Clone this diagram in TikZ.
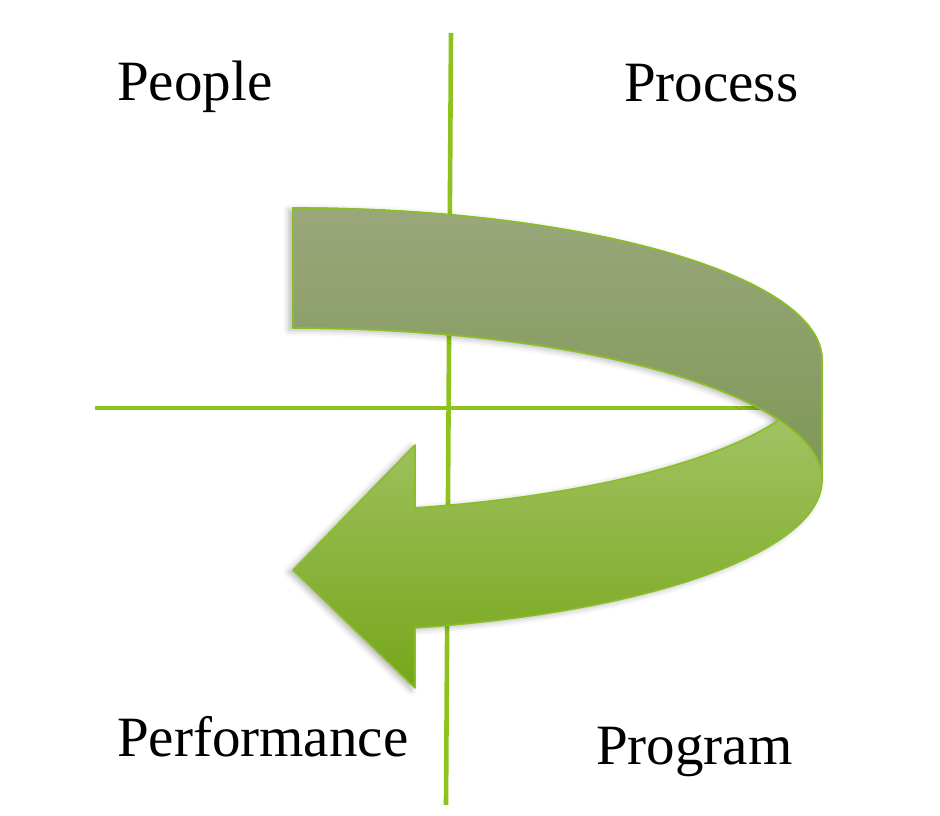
\documentclass[tikz,border=0pt]{standalone}
\usepackage{fontspec}
\setmainfont{Liberation Serif}
\usetikzlibrary{shadows.blur}
\definecolor{axisgreen}{RGB}{141,194,31}
\definecolor{edgegreen}{RGB}{138,190,40}
\definecolor{backtop}{RGB}{153,167,122}
\definecolor{backbot}{RGB}{126,151,86}
\definecolor{fronttop}{RGB}{170,201,114}
\definecolor{frontbot}{RGB}{118,166,26}
\begin{document}
\begin{tikzpicture}[x=1pt, y=1pt,
    axis/.style={draw=axisgreen, line width=4.6pt},
    ring/.style={x radius=529, y radius=152},
    ribbon/.style={draw=edgegreen, line width=1.6pt, line join=round},
    shade/.style={blur shadow={shadow xshift=-4pt, shadow yshift=-2pt,
                               shadow blur radius=6pt, shadow opacity=30}},
    word/.style={anchor=base west, inner sep=0pt,
                 font=\fontsize{57}{60}\selectfont}]
  \useasboundingbox (0,0) rectangle (940,816);
  \coordinate (vtop) at (451,783);
  \coordinate (vbot) at (446,11);
  \coordinate (hleft) at (95,408);
  \coordinate (hright) at (775,408);
  \draw[axis] (vtop) -- (vbot);
  \draw[axis] (hleft) -- (hright);
  % back half of the ribbon: once for its shadow, once on top
  \path[ribbon, shade, top color=backtop, bottom color=backbot]
    (293,608) arc[ring, start angle=90, end angle=0] -- (822,336)
    arc[ring, start angle=0, end angle=90] -- cycle;
  % front half of the ribbon, ending in the arrow head
  \path[ribbon, shade, top color=fronttop, bottom color=frontbot]
    (415,308.1) -- (415,371) -- (293,246) -- (415,128) -- (415,188.1)
    arc[ring, start angle=-76.67, end angle=0] -- (822,456)
    arc[ring, start angle=0, end angle=-76.67] -- cycle;
  \path[ribbon, top color=backtop, bottom color=backbot]
    (293,608) arc[ring, start angle=90, end angle=0] -- (822,336)
    arc[ring, start angle=0, end angle=90] -- cycle;
  \node[word] (people) at (117,715) {People};
  \node[word] (process) at (624,714) {Process};
  \node[word] (performance) at (117,59) {Performance};
  \node[word] (program) at (596,51) {Program};
\end{tikzpicture}
\end{document}
